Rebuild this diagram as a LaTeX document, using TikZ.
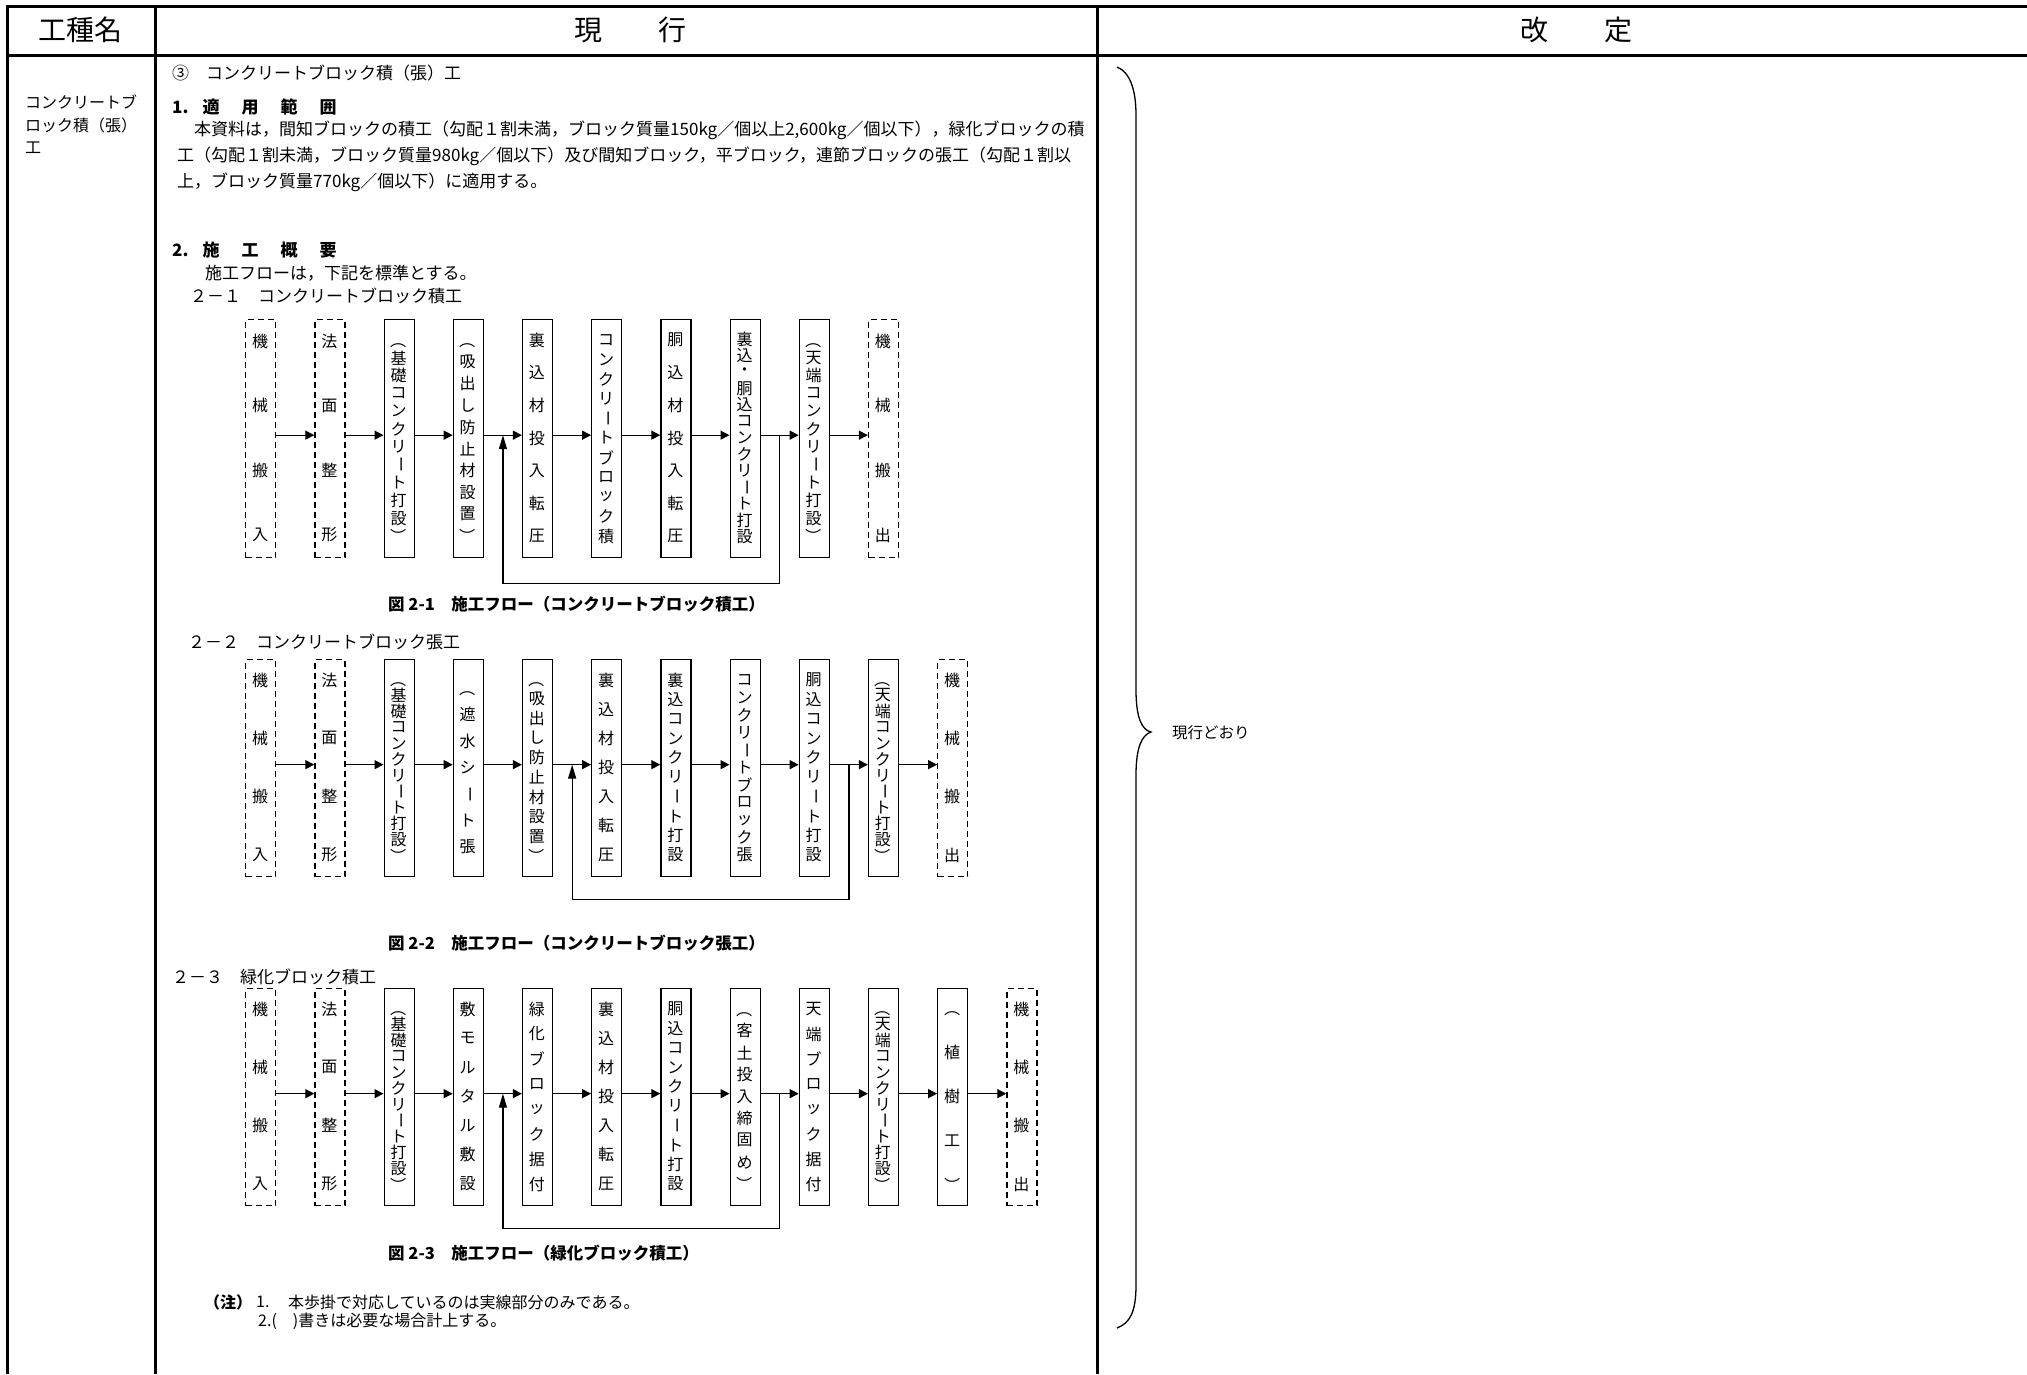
\documentclass[tikz,border=0pt]{standalone}
\usepackage{fontspec}
\setmainfont{Noto Sans CJK JP}
\usepackage{graphicx}
\usetikzlibrary{arrows.meta,calc}
\newcount\vcnt
\newcommand\vL{\rotatebox[origin=c]{-90}{（}}
\newcommand\vR{\rotatebox[origin=c]{-90}{）}}
\newcommand\vB{\rotatebox[origin=c]{-90}{ー}}
\tikzset{
  solidbox/.style={draw, line width=1.3pt, minimum width=30pt, inner sep=0pt},
  dashbox/.style={solidbox, dash pattern=on 6pt off 4pt},
  ch/.style={inner sep=0pt, font=\fontsize{16pt}{16pt}\selectfont},
  arr/.style={line width=1.3pt, -{Triangle[length=9pt,width=9pt]}},
  backarr/.style={line width=1.3pt, -{Triangle[length=14pt,width=8pt]}},
  txt/.style={anchor=west, inner sep=0pt, font=\fontsize{17pt}{20pt}\selectfont},
  stxt/.style={anchor=west, inner sep=0pt, font=\fontsize{16pt}{18pt}\selectfont},
  btxt/.style={anchor=west, inner sep=0pt, font=\fontsize{17pt}{20pt}\selectfont\bfseries},
  figcap/.style={anchor=west, inner sep=0pt, font=\fontsize{16.5pt}{19pt}\selectfont\bfseries},
  hdr/.style={inner sep=0pt, font=\fontsize{28pt}{30pt}\selectfont},
  rule/.style={line width=3pt},
}
\newcommand\stepnode[7][21]{%
  \node[#2, minimum height=#6pt, anchor=north west] (#3) at (#4,#5) {};
  \global\vcnt=0
  \foreach \c in {#7}{\global\advance\vcnt by 1}%
  \pgfmathsetmacro\vstep{(#6-2*#1)/(\the\vcnt-1)}%
  \foreach \c [count=\i] in {#7}{%
    \pgfmathsetmacro\yy{#5+#1+(\i-1)*\vstep}%
    \node[ch] (#3-\i) at (#4+15,\yy) {\c};
  }%
}
\begin{document}
\begin{tikzpicture}[x=1pt,y=-1pt]
\useasboundingbox (0,0) rectangle (2027,1374);
% table
\draw[line width=3.5pt] (5.5,6.5) -- (2027,6.5);
\draw[rule] (7,5) -- (7,1374);
\draw[rule] (7,55) -- (2027,55);
\draw[rule] (155,6.5) -- (155,1374);
\draw[rule] (1097,6.5) -- (1097,1374);
\node[hdr] (h1) at (80,30) {工種名};
\node[hdr] (h2) at (630,30) {現　　行};
\node[hdr] (h3) at (1576,30) {改　　定};
% column 1
\node[stxt] (k1) at (25,102) {コンクリートブ};
\node[stxt] (k2) at (25,125) {ロック積（張）};
\node[stxt] (k3) at (25,148) {工};
% column 2 text
\node[txt] (t0) at (172,73) {③　コンクリートブロック積（張）工};
\node[btxt] (s1) at (172,107) {1.\hspace{14pt}適\hspace{22pt}用\hspace{22pt}範\hspace{22pt}囲};
\node[txt] (p1) at (194,130) {本資料は，間知ブロックの積工（勾配１割未満，ブロック質量150kg／個以上2,600kg／個以下），緑化ブロックの積};
\node[txt] (p2) at (177,156) {工（勾配１割未満，ブロック質量980kg／個以下）及び間知ブロック，平ブロック，連節ブロックの張工（勾配１割以};
\node[txt] (p3) at (177,182) {上，ブロック質量770kg／個以下）に適用する。};
\node[btxt] (s2) at (172,250) {2.\hspace{14pt}施\hspace{22pt}工\hspace{22pt}概\hspace{22pt}要};
\node[txt] (p4) at (205,273) {施工フローは，下記を標準とする。};
\node[txt] (f1t) at (190,296) {２－１　コンクリートブロック積工};
% flow 1
\stepnode[22]{dashbox}{b1}{245}{319}{238}{機,械,搬,入}
\stepnode[22]{dashbox}{b2}{314.3}{319}{238}{法,面,整,形}
\stepnode{solidbox}{b3}{383.5}{319}{238}{\vL,基,礎,コ,ン,ク,リ,\vB,ト,打,設,\vR}
\stepnode{solidbox}{b4}{452.7}{319}{238}{\vL,吸,出,し,防,止,材,設,置,\vR}
\stepnode{solidbox}{b5}{521.9}{319}{238}{裏,込,材,投,入,転,圧}
\stepnode{solidbox}{b6}{591.1}{319}{238}{コ,ン,ク,リ,\vB,ト,ブ,ロ,ッ,ク,積}
\stepnode{solidbox}{b7}{660.3}{319}{238}{胴,込,材,投,入,転,圧}
\stepnode[20]{solidbox}{b8}{729.5}{319}{238}{裏,込,・,胴,込,コ,ン,ク,リ,\vB,ト,打,設}
\stepnode{solidbox}{b9}{798.7}{319}{238}{\vL,天,端,コ,ン,ク,リ,\vB,ト,打,設,\vR}
\stepnode[22]{dashbox}{b10}{867.9}{319}{238}{機,械,搬,出}
\foreach \i [evaluate=\i as \j using int(\i+1)] in {1,...,9}
  \draw[arr] ([yshift=3.5pt]b\i.east) -- ([yshift=3.5pt]b\j.west);
\coordinate (j1) at ($([yshift=3.5pt]b8.east)!0.5!([yshift=3.5pt]b9.west)$);
\coordinate (u1) at ($([yshift=3.5pt]b4.east)!0.5!([yshift=3.5pt]b5.west)$);
\draw[backarr] (j1) -- ++(0,148.5) -| (u1);
\node[figcap] (cap1) at (388,604) {図 2-1　施工フロー（コンクリートブロック積工）};
% flow 2
\node[txt] (f2t) at (188,642) {２－２　コンクリートブロック張工};
\stepnode[21]{dashbox}{c1}{245}{659}{217}{機,械,搬,入}
\stepnode[21]{dashbox}{c2}{314.3}{659}{217}{法,面,整,形}
\stepnode[20]{solidbox}{c3}{383.5}{659}{217}{\vL,基,礎,コ,ン,ク,リ,\vB,ト,打,設,\vR}
\stepnode[29]{solidbox}{c4}{452.7}{659}{217}{\vL,遮,水,シ,\vB,ト,張}
\stepnode[20]{solidbox}{c5}{521.9}{659}{217}{\vL,吸,出,し,防,止,材,設,置,\vR}
\stepnode{solidbox}{c6}{591.1}{659}{217}{裏,込,材,投,入,転,圧}
\stepnode{solidbox}{c7}{660.3}{659}{217}{裏,込,コ,ン,ク,リ,\vB,ト,打,設}
\stepnode{solidbox}{c8}{729.5}{659}{217}{コ,ン,ク,リ,\vB,ト,ブ,ロ,ッ,ク,張}
\stepnode{solidbox}{c9}{798.7}{659}{217}{胴,込,コ,ン,ク,リ,\vB,ト,打,設}
\stepnode[20]{solidbox}{c10}{867.9}{659}{217}{\vL,天,端,コ,ン,ク,リ,\vB,ト,打,設,\vR}
\stepnode[21]{dashbox}{c11}{937.1}{659}{217}{機,械,搬,出}
\foreach \i [evaluate=\i as \j using int(\i+1)] in {1,...,10}
  \draw[arr] ([yshift=3.5pt]c\i.east) -- ([yshift=3.5pt]c\j.west);
\coordinate (j2) at ($([yshift=3.5pt]c9.east)!0.5!([yshift=3.5pt]c10.west)$);
\coordinate (u2) at ($([yshift=3.5pt]c5.east)!0.5!([yshift=3.5pt]c6.west)$);
\draw[backarr] (j2) -- ++(0,135) -| (u2);
\node[figcap] (cap2) at (388,943) {図 2-2　施工フロー（コンクリートブロック張工）};
% flow 3
\node[txt] (f3t) at (172,977) {２－３　緑化ブロック積工};
\stepnode[21]{dashbox}{d1}{245}{988}{217}{機,械,搬,入}
\stepnode[21]{dashbox}{d2}{314.3}{988}{217}{法,面,整,形}
\stepnode[20]{solidbox}{d3}{383.5}{988}{217}{\vL,基,礎,コ,ン,ク,リ,\vB,ト,打,設,\vR}
\stepnode{solidbox}{d4}{452.7}{988}{217}{敷,モ,ル,タ,ル,敷,設}
\stepnode{solidbox}{d5}{521.9}{988}{217}{緑,化,ブ,ロ,ッ,ク,据,付}
\stepnode{solidbox}{d6}{591.1}{988}{217}{裏,込,材,投,入,転,圧}
\stepnode{solidbox}{d7}{660.3}{988}{217}{胴,込,コ,ン,ク,リ,\vB,ト,打,設}
\stepnode{solidbox}{d8}{729.5}{988}{217}{\vL,客,土,投,入,締,固,め,\vR}
\stepnode{solidbox}{d9}{798.7}{988}{217}{天,端,ブ,ロ,ッ,ク,据,付}
\stepnode[20]{solidbox}{d10}{867.9}{988}{217}{\vL,天,端,コ,ン,ク,リ,\vB,ト,打,設,\vR}
\stepnode[20]{solidbox}{d11}{937.1}{988}{217}{\vL,植,樹,工,\vR}
\stepnode[21]{dashbox}{d12}{1006.3}{988}{217}{機,械,搬,出}
\foreach \i [evaluate=\i as \j using int(\i+1)] in {1,...,11}
  \draw[arr] ([yshift=3.5pt]d\i.east) -- ([yshift=3.5pt]d\j.west);
\coordinate (j3) at ($([yshift=3.5pt]d8.east)!0.5!([yshift=3.5pt]d9.west)$);
\coordinate (u3) at ($([yshift=3.5pt]d4.east)!0.5!([yshift=3.5pt]d5.west)$);
\draw[backarr] (j3) -- ++(0,135) -| (u3);
\node[figcap] (cap3) at (388,1253) {図 2-3　施工フロー（緑化ブロック積工）};
% notes
\node[btxt, font=\fontsize{16pt}{18pt}\selectfont\bfseries] (n0) at (204,1302) {（注）};
\node[stxt] (n1a) at (256,1302) {1.};
\node[stxt] (n1) at (288,1302) {本歩掛で対応しているのは実線部分のみである。};
\node[stxt] (n2) at (258,1321) {2.(　)書きは必要な場合計上する。};
% right column
\draw[line width=1.3pt] (1117,67) .. controls (1130,72) and (1136,90) .. (1136,115)
  -- (1136,690) .. controls (1136,718) and (1142,730) .. (1151,732)
  .. controls (1142,735) and (1136,747) .. (1136,775)
  -- (1136,1285) .. controls (1136,1312) and (1130,1323) .. (1117,1328);
\node[stxt, font=\fontsize{15.5pt}{18pt}\selectfont] (same) at (1172,733) {現行どおり};
\end{tikzpicture}
\end{document}
